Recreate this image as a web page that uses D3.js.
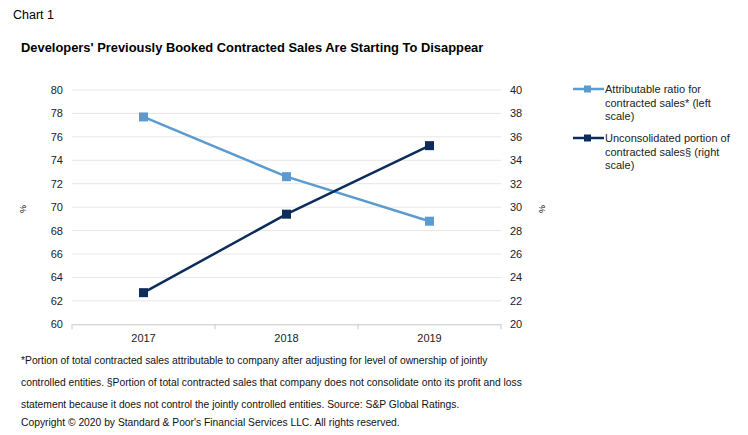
<!DOCTYPE html>
<html><head><meta charset="utf-8">
<script src="https://cdn.jsdelivr.net/npm/d3@7"></script>
<style>
body{margin:0;background:#fff;font-family:"Liberation Sans",Arial,sans-serif;}
</style></head><body>
<svg id="c" width="748" height="435"></svg>
<script>
const categories = ["2017","2018","2019"];
const attributable = [77.7, 72.6, 68.8];
const unconsolidated = [22.7, 29.4, 35.25];
const leftTicks = [60,62,64,66,68,70,72,74,76,78,80];
const rightTicks = [20,22,24,26,28,30,32,34,36,38,40];
const seriesNames = ["Attributable ratio for|contracted sales* (left|scale)", "Unconsolidated portion of|contracted sales§ (right|scale)"];
const footnotes = [
 "*Portion of total contracted sales attributable to company after adjusting for level of ownership of jointly",
 "controlled entities. §Portion of total contracted sales that company does not consolidate onto its profit and loss",
 "statement because it does not control the jointly controlled entities. Source: S&P Global Ratings.",
 "Copyright © 2020 by Standard & Poor's Financial Services LLC. All rights reserved."
];
const lightC = "#5b9bd0", darkC = "#0c2d5c";

const svg = d3.select("#c");
const x0 = 72, x1 = 501, yTop = 90, yBot = 324.3;
const x = d3.scaleBand().domain(categories).range([x0, x1]);
const yL = d3.scaleLinear().domain([60,80]).range([yBot, yTop]);
const yR = d3.scaleLinear().domain([20,40]).range([yBot, yTop]);

svg.append("text").attr("x",13).attr("y",19).attr("font-size",12.5).attr("fill","#000").text("Chart 1");
svg.append("text").attr("x",21).attr("y",52).attr("font-size",12.9).attr("font-weight","bold").attr("fill","#000")
  .text("Developers' Previously Booked Contracted Sales Are Starting To Disappear");

// gridlines
svg.append("g").selectAll("line").data(leftTicks.slice(1)).join("line")
  .attr("x1",x0).attr("x2",x1).attr("y1",d=>yL(d)).attr("y2",d=>yL(d))
  .attr("stroke","#e6e6e6").attr("stroke-width",1);

// left axis labels
const gl = svg.append("g").attr("transform",`translate(${x0},0)`)
  .call(d3.axisLeft(yL).tickValues(leftTicks).tickSize(0).tickPadding(9));
gl.select(".domain").remove();
gl.selectAll("text").attr("font-size",11).attr("font-family","Liberation Sans, Arial").attr("fill","#222");

const gr = svg.append("g").attr("transform",`translate(${x1},0)`)
  .call(d3.axisRight(yR).tickValues(rightTicks).tickSize(0).tickPadding(9));
gr.select(".domain").remove();
gr.selectAll("text").attr("font-size",11).attr("font-family","Liberation Sans, Arial").attr("fill","#222");

// bottom axis
const gb = svg.append("g").attr("transform",`translate(0,${yBot})`)
  .call(d3.axisBottom(x).tickSize(0).tickPadding(10));
gb.select(".domain").attr("stroke","#c8c8c8");
gb.selectAll("text").attr("font-size",11).attr("font-family","Liberation Sans, Arial").attr("fill","#222");
const bounds = [x0].concat(categories.map(c=>x(c)+x.bandwidth()));
svg.append("g").selectAll("line").data(bounds).join("line")
  .attr("x1",d=>d).attr("x2",d=>d).attr("y1",yBot).attr("y2",yBot+5).attr("stroke","#c8c8c8");

// % labels
svg.append("text").attr("transform","translate(26,209) rotate(-90)").attr("text-anchor","middle").attr("font-size",9).text("%");
svg.append("text").attr("transform","translate(545,209) rotate(-90)").attr("text-anchor","middle").attr("font-size",9).text("%");

const cx = c => x(c) + x.bandwidth()/2;
const lineL = d3.line().x((d,i)=>cx(categories[i])).y(d=>yL(d));
const lineR = d3.line().x((d,i)=>cx(categories[i])).y(d=>yR(d));
svg.append("path").attr("d",lineL(attributable)).attr("fill","none").attr("stroke",lightC).attr("stroke-width",2.5);
svg.append("path").attr("d",lineR(unconsolidated)).attr("fill","none").attr("stroke",darkC).attr("stroke-width",2.5);
const ms = 9;
svg.append("g").selectAll("rect").data(attributable).join("rect")
  .attr("x",(d,i)=>cx(categories[i])-ms/2).attr("y",d=>yL(d)-ms/2).attr("width",ms).attr("height",ms).attr("fill",lightC);
svg.append("g").selectAll("rect").data(unconsolidated).join("rect")
  .attr("x",(d,i)=>cx(categories[i])-ms/2).attr("y",d=>yR(d)-ms/2).attr("width",ms).attr("height",ms).attr("fill",darkC);

// legend
const legY = [89, 138];
const legC = [lightC, darkC];
seriesNames.forEach((n,i)=>{
  const g = svg.append("g");
  g.append("line").attr("x1",573).attr("x2",604).attr("y1",legY[i]).attr("y2",legY[i]).attr("stroke",legC[i]).attr("stroke-width",2.5);
  g.append("rect").attr("x",584).attr("y",legY[i]-3.5).attr("width",7).attr("height",7).attr("fill",legC[i]);
  n.split("|").forEach((t,j)=>{
    g.append("text").attr("x",605).attr("y",legY[i]+4+j*13.5).attr("font-size",11).attr("fill","#222").text(t);
  });
});

// footnotes
const fy = [364, 386, 408, 426];
footnotes.forEach((t,i)=>{
  svg.append("text").attr("x",21).attr("y",fy[i]).attr("font-size",10.3).attr("fill","#111").text(t);
});
</script></body></html>
